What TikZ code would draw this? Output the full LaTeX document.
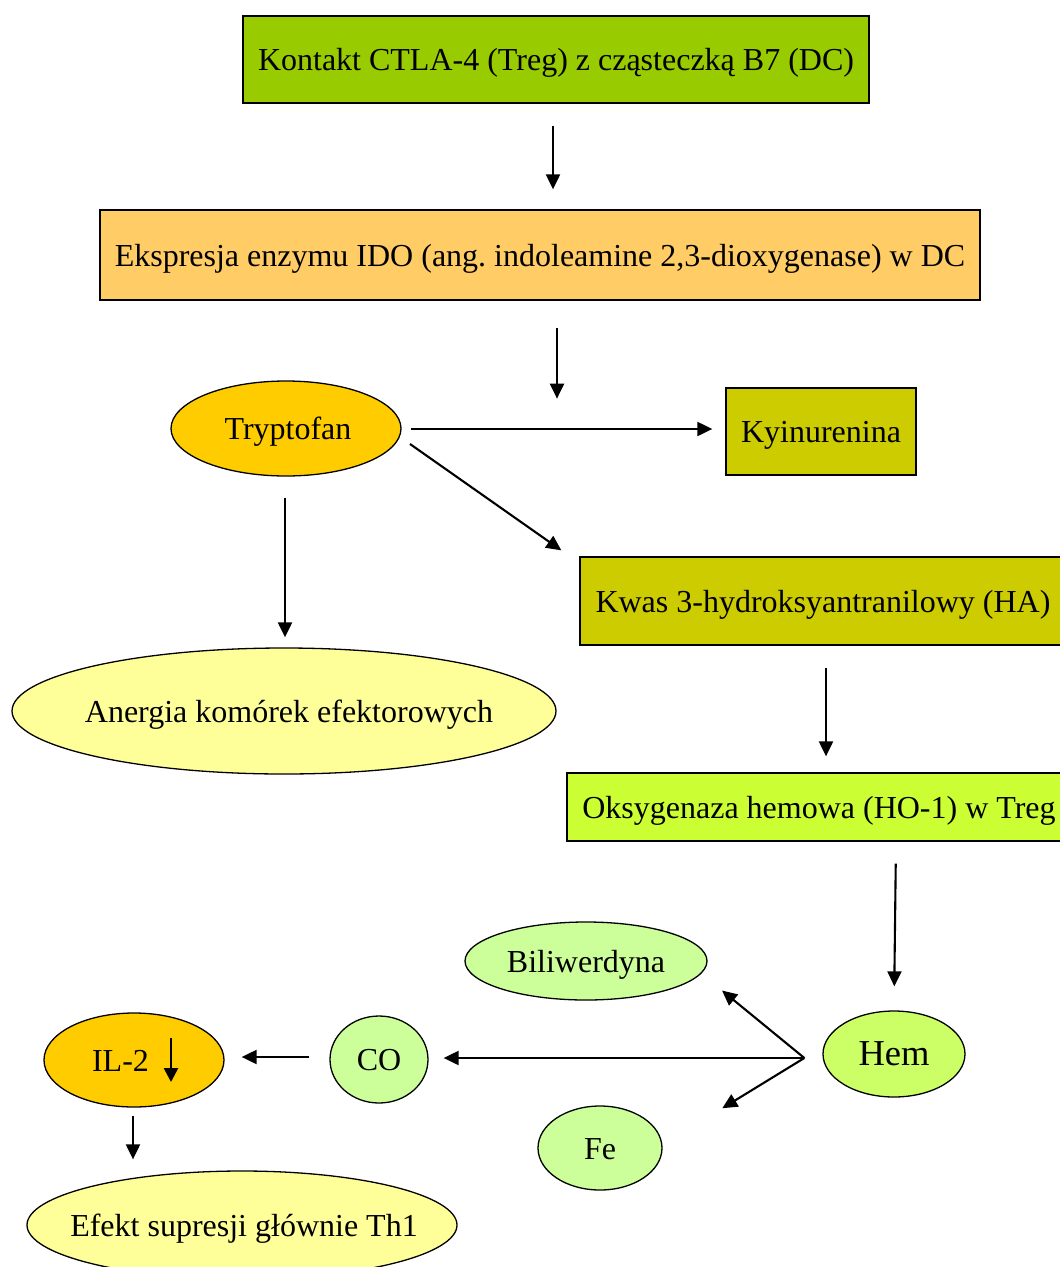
\documentclass[tikz,border=0pt]{standalone}
\usepackage{fontspec}
\setmainfont{Liberation Serif}
\usetikzlibrary{shapes.geometric,arrows.meta,calc}
\definecolor{cA}{HTML}{99CC00}
\definecolor{cB}{HTML}{FFCC66}
\definecolor{cC}{HTML}{FFCC00}
\definecolor{cD}{HTML}{CCCC00}
\definecolor{cE}{HTML}{CCFF33}
\definecolor{cF}{HTML}{FFFF99}
\definecolor{cG}{HTML}{CCFF99}
\definecolor{cH}{HTML}{CCFF66}
\newcommand{\Tx}[2][0pt]{\raisebox{-11pt}[0pt][0pt]{\makebox[0pt]{\hspace*{#1}#2}}}
\frenchspacing
\begin{document}
\begin{tikzpicture}[x=1pt,y=-1pt,
  every node/.style={font=\fontsize{32}{38}\selectfont, inner sep=0pt, line width=1.3pt, draw=black},
  boxn/.style={rectangle},
  elln/.style={ellipse},
  arr/.style={line width=2.1pt, -{Triangle[length=15pt,width=14pt]}}]
\useasboundingbox (0,0) rectangle (1060,1267);
\fill[white] (0,0) rectangle (1060,1267);
\clip (0,0) rectangle (1060,1267);

\node[boxn, fill=cA, minimum width=626pt, minimum height=87pt] (n1) at (556,59.5) {\Tx{Kontakt CTLA-4 (Treg) z cząsteczką B7 (DC)}};
\node[boxn, fill=cB, minimum width=880pt, minimum height=90pt] (n2) at (540,255) {\Tx{Ekspresja enzymu IDO (ang. indoleamine 2,3-dioxygenase) w DC}};
\node[elln, fill=cC, minimum width=230pt, minimum height=95pt] (tryp) at (286,428.5) {\Tx[4pt]{Tryptofan}};
\node[boxn, fill=cD, minimum width=190pt, minimum height=87pt] (kyn) at (821,431.5) {\Tx{Kyinurenina}};
\node[boxn, fill=cD, minimum width=486pt, minimum height=88pt] (kwas) at (823,601) {\Tx{Kwas 3-hydroksyantranilowy (HA)}};
\node[elln, fill=cF, minimum width=544pt, minimum height=126pt] (anergia) at (284,711) {\Tx[10pt]{Anergia komórek efektorowych}};
\node[boxn, fill=cE, minimum width=504pt, minimum height=68pt] (oks) at (819,807) {\Tx{Oksygenaza hemowa (HO-1) w Treg}};
\node[elln, fill=cH, minimum width=142pt, minimum height=86pt, font=\fontsize{36.5}{42}\selectfont] (hem) at (894,1054) {\Tx{Hem}};
\node[elln, fill=cG, minimum width=242pt, minimum height=78pt] (bili) at (586,961) {\Tx{Biliwerdyna}};
\node[elln, fill=cG, minimum width=124pt, minimum height=84pt] (fe) at (600,1148) {\Tx{Fe}};
\node[elln, fill=cG, minimum width=98pt, minimum height=87pt] (co) at (379,1059.5) {\Tx{CO}};
\node[elln, fill=cC, minimum width=180pt, minimum height=94pt] (il2) at (134,1060) {\Tx{IL-2\hspace*{27pt}}};
\node[elln, fill=cF, minimum width=430pt, minimum height=108pt] (efekt) at (242,1225) {\Tx[4pt]{Efekt supresji głównie Th1}};

% down arrow inside IL-2 label
\draw[line width=2.6pt, -{Triangle[length=14pt,width=14pt]}] ($(il2.center)+(37,-22)$) -- ($(il2.center)+(37,22)$);

% connectors
\draw[arr, shorten <=22pt, shorten >=20pt] ([xshift=-3pt]n1.south) -- ([xshift=-3pt]n1.south |- n2.north);
\coordinate (idoEnd) at ($(n2.south)+(17,98)$);
\draw[arr, shorten <=27pt] ([xshift=17pt]n2.south) -- (idoEnd);
\draw[arr, shorten <=9pt, shorten >=13pt] ([yshift=-0.5pt]tryp.east) -- ([yshift=-0.5pt]tryp.east -| kyn.west);
\coordinate (dgS) at ($(tryp.center)+(124,15.5)$);
\coordinate (dgE) at ($(kwas.north west)+(-18,-6)$);
\draw[arr] (dgS) -- (dgE);
\draw[arr, shorten <=21pt, shorten >=10pt] ([xshift=-1pt]tryp.south) -- ([xshift=-1pt]tryp.south |- anergia.north);
\draw[arr, shorten <=22pt, shorten >=16pt] ([xshift=3pt]kwas.south) -- ([xshift=3pt]kwas.south |- oks.north);
\draw[arr, shorten <=22pt, shorten >=24pt] ([xshift=2pt]hem.north |- oks.south) -- (hem.north);
\coordinate (hub) at ($(hem.west)+(-18,4)$);
\coordinate (biliEnd) at ($(bili.south east)+(50,1.5)$);
\coordinate (feEnd) at ($(fe.north east)+(78,-9.6)$);
\draw[arr, shorten >=15pt] (hub) -- (hub -| co.east);
\draw[arr] (hub) -- (biliEnd);
\draw[arr] (hub) -- (feEnd);
\draw[arr, shorten <=20pt, shorten >=17pt] ([yshift=2.5pt]co.west) -- ([yshift=2.5pt]co.west -| il2.east);
\draw[arr, shorten <=8pt, shorten >=11pt] ([xshift=-1pt]il2.south) -- ([xshift=-1pt]il2.south |- efekt.north);
\end{tikzpicture}
\end{document}
